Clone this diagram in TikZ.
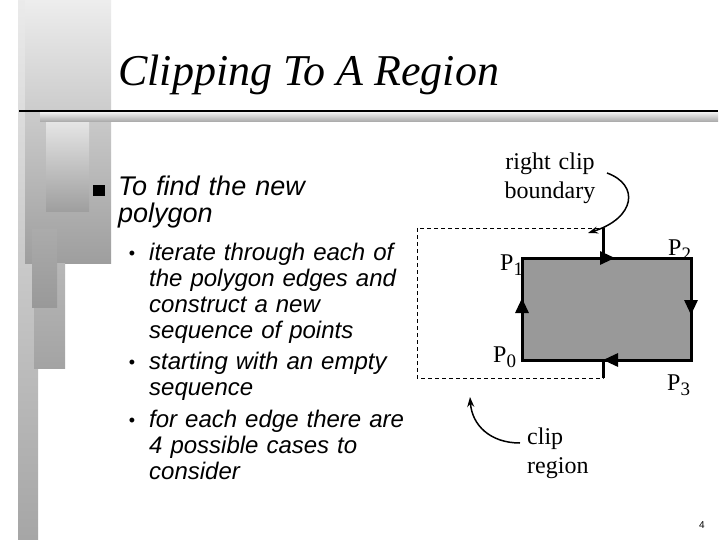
\documentclass[tikz,border=0pt]{standalone}
\usepackage{fontspec}
\setmainfont{Liberation Serif}
\setsansfont{Liberation Sans}
\usetikzlibrary{arrows.meta,decorations.markings}
\definecolor{polygray}{HTML}{999999}
\newcommand{\plbl}[1]{P\raisebox{-5pt}{\fontsize{19}{19}\selectfont #1}}

\begin{document}
\begin{tikzpicture}[x=1pt, y=-1pt, inner sep=0pt,
  headtxt/.style = {anchor=base west, font=\sffamily\itshape\fontsize{27}{27}\selectfont, text width=300pt, align=left},
  itemtxt/.style = {anchor=base west, font=\sffamily\itshape\fontsize{24}{26}\selectfont, text width=260pt, align=left},
  bulletdot/.style = {anchor=base, font=\sffamily\fontsize{18}{18}\selectfont},
  lbl/.style = {anchor=base west, font=\fontsize{24}{29}\selectfont},
  polyedge/.style = {line width=3pt},
  tri/.tip = {Triangle[length=15pt, width=13pt]},
  curvearrow/.style = {line width=1.5pt, -{Stealth[length=10pt, width=7pt]}}]

\useasboundingbox (0,0) rectangle (720,540);
\fill[white] (0,0) rectangle (720,540);

% side bars
\shade[top color=black!8, bottom color=black!35] (18,0) rectangle (38,540);
\shade[top color=black!7, bottom color=black!38] (25,0) rectangle (111,263);
\shade[top color=black!28, bottom color=black!36] (34,263) rectangle (65,368);
\shade[top color=black!33, bottom color=black!40] (32,230) rectangle (57,307);
\shade[top color=black!10, bottom color=black!38] (46,121) rectangle (89,212);
\shade[top color=black!8, bottom color=black!35] (40,113) rectangle (718,122);
\draw[line width=2pt] (19,111) -- (718,111);

\node[anchor=base west, font=\itshape\fontsize{44}{44}\selectfont] (title) at (118,86) {Clipping To A Region};

\node[fill=black, minimum size=11.5pt] (sq) at (99,190.5) {};
\node[headtxt] (find) at (118,196) {To find the new\\polygon};
\node[bulletdot] (d1) at (132,259) {\textbullet};
\node[itemtxt] (it1) at (149,260) {iterate through each of\\the polygon edges and\\construct a new\\sequence of points};
\node[bulletdot] (d2) at (132,368) {\textbullet};
\node[itemtxt] (it2) at (149,369) {starting with an empty\\sequence};
\node[bulletdot] (d3) at (132,426) {\textbullet};
\node[itemtxt] (it3) at (149,427) {for each edge there are\\4 possible cases to\\consider};

% clip window and polygon
\coordinate (cw1) at (417,228);
\coordinate (cw2) at (603,378);
\coordinate (P0) at (522,360);
\coordinate (P1) at (522,258);
\coordinate (P2) at (691,258);
\coordinate (P3) at (691,360);

\draw[line width=0.8pt, dash pattern=on 4pt off 3pt] (cw1) rectangle (cw2);
\fill[polygray] (P0) rectangle (P2);
\draw[polyedge, line join=miter, postaction={decorate}, decoration={markings,
    mark=at position 62pt with {\arrow{tri}},
    mark=at position 195pt with {\arrow{tri}},
    mark=at position 328pt with {\arrow{tri}},
    mark=at position 461pt with {\arrow{tri}}}]
  (P0) -- (P1) -- (P2) -- (P3) -- cycle;
\draw[polyedge] (cw2 |- cw1) -- (cw2 |- P1);
\draw[polyedge] (cw2 |- P0) -- (cw2);

\node[lbl] (p1) at (500,270) {\plbl{1}};
\node[lbl] (p2) at (668,255) {\plbl{2}};
\node[lbl] (p0) at (493,362) {\plbl{0}};
\node[lbl] (p3) at (667,390) {\plbl{3}};

\node[lbl, anchor=base, text width=110pt, align=center] (rcb) at (550,170) {right clip\\boundary};
\node[lbl, text width=80pt, align=left] (crg) at (527,444) {clip\\region};

\coordinate (rs) at (607,173);
\coordinate (rt) at (588,233);
\coordinate (cs) at (520,443);
\coordinate (ct) at (470,397);
\draw[curvearrow] (rs) .. controls (640,185) and (635,218) .. (rt);
\draw[curvearrow] (cs) .. controls (490,443) and (472,425) .. (ct);

\node[anchor=base, font=\sffamily\fontsize{10}{10}\selectfont] (pg) at (702,528) {4};

\end{tikzpicture}
\end{document}
